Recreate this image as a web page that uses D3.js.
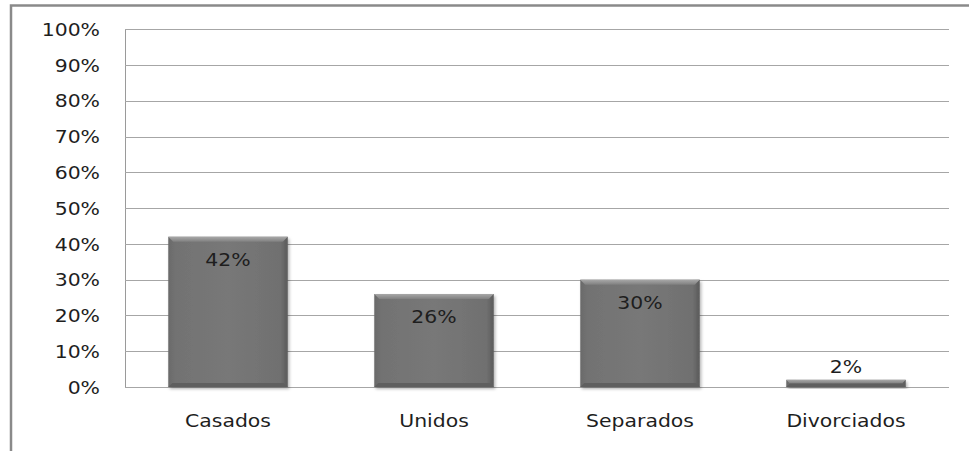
<!DOCTYPE html>
<html><head><meta charset="utf-8">
<script src="https://cdn.jsdelivr.net/npm/d3@7"></script>
<style>body{margin:0;background:#fff}svg{display:block}text{font-family:"DejaVu Sans",Verdana,sans-serif}</style>
</head><body>
<script>
const categories = ["Casados","Unidos","Separados","Divorciados"];
const values = [0.42,0.26,0.30,0.02];
const valueLabels = ["42%","26%","30%","2%"];
const yTicks = [0,0.1,0.2,0.3,0.4,0.5,0.6,0.7,0.8,0.9,1.0];

const W=969,H=451, FS=17, SX=1.2;
const svg=d3.select("body").append("svg").attr("width",W).attr("height",H);
const defs=svg.append("defs");
const g1=defs.append("linearGradient").attr("id","barg").attr("x1",0).attr("x2",1).attr("y1",0).attr("y2",0);
g1.append("stop").attr("offset","0%").attr("stop-color","#6a6a6a");
g1.append("stop").attr("offset","6%").attr("stop-color","#727272");
g1.append("stop").attr("offset","50%").attr("stop-color","#787878");
g1.append("stop").attr("offset","94%").attr("stop-color","#707070");
g1.append("stop").attr("offset","100%").attr("stop-color","#5a5a5a");
const g2=defs.append("linearGradient").attr("id","topg").attr("x1",0).attr("x2",0).attr("y1",0).attr("y2",1);
g2.append("stop").attr("offset","0%").attr("stop-color","#a8a8a8");
g2.append("stop").attr("offset","100%").attr("stop-color","#808080");
const f=defs.append("filter").attr("id","sh").attr("x","-10%").attr("y","-10%").attr("width","130%").attr("height","130%");
f.append("feDropShadow").attr("dx",1.5).attr("dy",2).attr("stdDeviation",1.5).attr("flood-color","#000").attr("flood-opacity",0.3);

// outer frame
svg.append("path").attr("d","M11,451 V5.5 H969").attr("fill","none").attr("stroke","#8a8a8a").attr("stroke-width",2.5);

const L=125,R=949,T=29.3,B=387;
const x=d3.scaleBand().domain(categories).range([L,R]).paddingInner(0.42).paddingOuter(0.21);
const y=d3.scaleLinear().domain([0,1]).range([B,T]);

const PAD=25;
const yAxis=d3.axisLeft(y).tickValues(yTicks).tickFormat(d3.format(".0%")).tickSize(-(R-L)).tickPadding(PAD);
const ga=svg.append("g").attr("transform",`translate(${L},0)`).call(yAxis);
ga.select(".domain").attr("stroke","#9a9a9a").attr("shape-rendering","crispEdges");
ga.selectAll(".tick line").attr("stroke","#a6a6a6").attr("shape-rendering","crispEdges");
ga.selectAll(".tick text").attr("font-size",FS).attr("fill","#1e1e1e").attr("dy","0.36em")
  .attr("x",0).attr("transform",`translate(${-PAD},0) scale(${SX},1)`);

const xAxis=d3.axisBottom(x).tickSize(0).tickPadding(0);
const gx=svg.append("g").attr("transform",`translate(0,${B})`).call(xAxis);
gx.select(".domain").remove();
gx.selectAll(".tick text").attr("font-size",FS).attr("fill","#1e1e1e").attr("dy",0)
  .attr("y",0).attr("transform",`translate(0,40) scale(${SX},1)`);

const bars=svg.append("g").selectAll("g").data(categories).join("g");
bars.append("rect").attr("x",d=>x(d)).attr("width",x.bandwidth())
  .attr("y",(d,i)=>y(values[i])).attr("height",(d,i)=>B-y(values[i]))
  .attr("fill","url(#barg)").attr("filter","url(#sh)");
bars.append("path").attr("d",(d,i)=>{const x0=x(d),x1=x0+x.bandwidth(),y0=y(values[i]),h=Math.min(5,(B-y0)/2);
  return `M${x0},${y0} H${x1} L${x1-h},${y0+h} H${x0+h} Z`;}).attr("fill","url(#topg)");
bars.append("path").attr("d",(d,i)=>{const x0=x(d),x1=x0+x.bandwidth(),y0=y(values[i]),h=Math.min(4,(B-y0)/2);
  return `M${x0},${B} H${x1} L${x1-h},${B-h} H${x0+h} Z`;}).attr("fill","#5f5f5f");

svg.append("g").selectAll("text").data(categories).join("text")
  .attr("transform",(d,i)=>`translate(${x(d)+x.bandwidth()/2},${values[i]>0.1 ? y(values[i])+23 : y(values[i])-13}) scale(${SX},1)`)
  .attr("text-anchor","middle").attr("dy","0.36em").attr("font-size",FS).attr("fill","#1e1e1e")
  .text((d,i)=>valueLabels[i]);
</script>
</body></html>
